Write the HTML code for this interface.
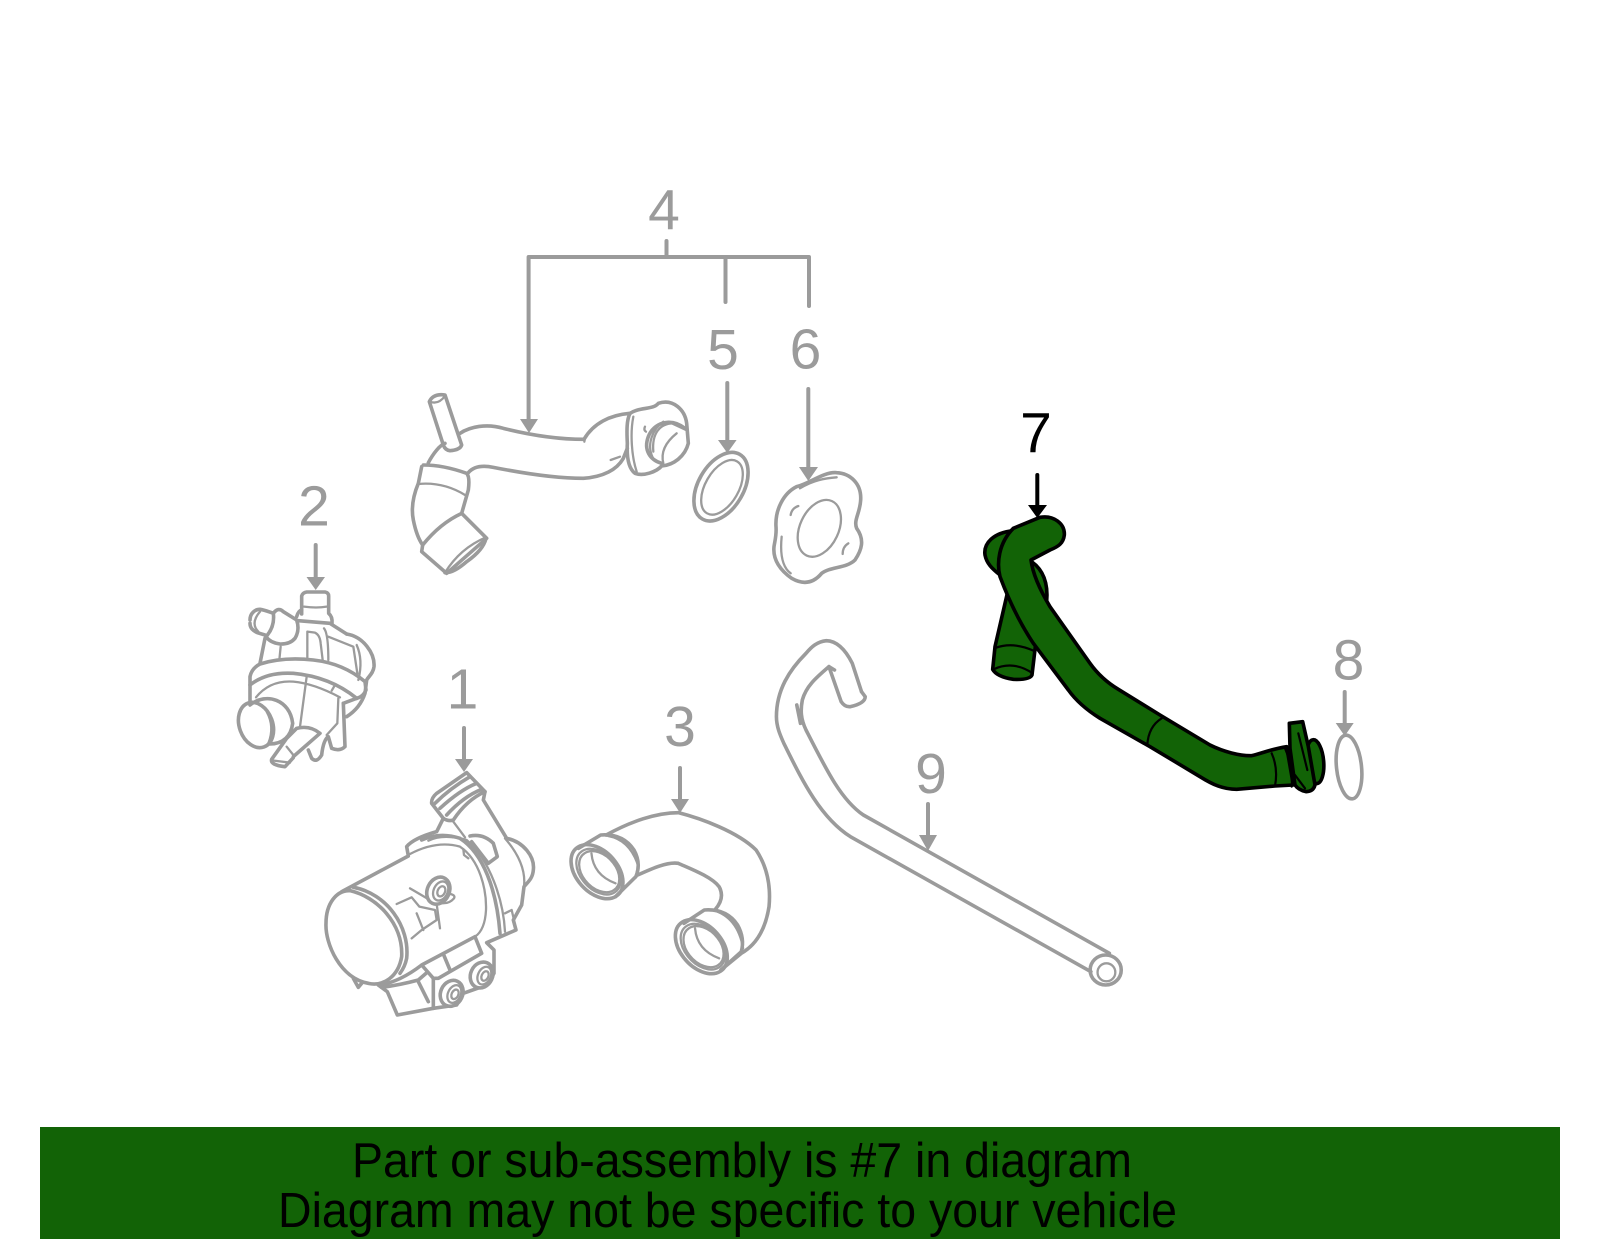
<!DOCTYPE html>
<html><head><meta charset="utf-8"><style>
html,body{margin:0;padding:0;background:#fff;width:1600px;height:1249px;overflow:hidden}
svg{display:block}
path,ellipse{vector-effect:non-scaling-stroke;stroke-linejoin:round;stroke-linecap:round}
.g{fill:none;stroke:#9b9b9b;stroke-width:3.6}
.g .t{stroke-width:2.3}
.w{fill:#fff}
.k{fill:#126306;stroke:#000;stroke-width:3.6}
.kn{fill:none;stroke:#000;stroke-width:2.2}
.n{font:57px "Liberation Sans",sans-serif;fill:#9b9b9b;text-anchor:middle}
.a{stroke:#9b9b9b;stroke-width:4;fill:none}
.h{fill:#9b9b9b}
</style></head><body>
<svg width="1600" height="1249" viewBox="0 0 1600 1249" xmlns="http://www.w3.org/2000/svg">
<rect width="1600" height="1249" fill="#fff"/>

<!-- part 4 -->
<g class="g" transform="translate(400,380) scale(.33333)">
<path d="M85,248C100,220 120,195 135,190"/>
<path d="M180,160C210,140 260,130 310,145C390,165 470,178 552,178C580,130 630,105 690,100"/>
<path d="M205,278C220,260 245,255 280,262C370,280 470,295 550,295C610,290 650,270 670,235L682,205"/>
<path class="t" d="M632,240L660,230M555,175L553,185"/>
<path d="M88,65Q100,40 135,45L185,195Q180,210 150,212Q135,210 130,195Z"/>
<path class="t" d="M90,65Q115,75 135,48"/>
<path d="M690,100C720,80 760,90 775,70C820,55 855,90 860,130L865,190C855,230 820,255 785,258C770,275 730,290 705,280C685,265 680,230 682,190C680,150 680,120 690,100Z"/>
<path class="t" d="M700,110C690,160 695,230 710,275"/>
<path d="M855,145C810,110 760,130 745,170C730,210 750,240 785,250"/>
<path class="t" d="M820,130C780,130 755,160 760,215M790,125C760,145 735,195 762,240M830,160C805,180 780,210 790,250M805,125L858,150M735,140Q730,150 738,155"/>
<path d="M65,260L55,310Q30,370 40,420Q50,470 68,495"/>
<path d="M70,255Q130,255 200,280Q210,290 205,330L185,400"/>
<path class="t" d="M55,312Q130,305 195,345"/>
<path d="M68,495Q120,430 185,400L260,475L140,580L65,515Z"/>
<path class="t" d="M135,578Q180,505 258,472"/>
<path d="M258,475Q250,510 200,545Q160,580 135,578"/>
<ellipse cx="963" cy="320" rx="68" ry="112" transform="rotate(30 963 320)"/>
<ellipse class="t" cx="966" cy="322" rx="50" ry="90" transform="rotate(30 966 322)"/>
<path d="M1190,320C1230,310 1270,275 1310,278C1350,280 1385,310 1382,360C1380,400 1360,420 1370,445C1395,480 1385,510 1365,540C1340,565 1290,560 1265,580C1240,610 1210,615 1175,595C1140,570 1118,540 1122,500C1125,480 1130,465 1128,440C1125,390 1150,340 1190,320Z"/>
<path class="t" d="M1200,325C1240,300 1275,295 1310,292M1145,470C1140,520 1145,560 1172,580M1195,378Q1175,385 1172,405M1345,490Q1328,500 1328,522"/>
<ellipse class="t" cx="1258" cy="445" rx="58" ry="90" transform="rotate(25 1258 445)"/>
</g>

<!-- part 2 -->
<g class="g" transform="translate(200,460) scale(.33333)">
<path d="M305,462L305,408Q308,398 320,396L375,396Q386,398 386,408L386,460Q398,470 396,490"/>
<path class="t" d="M312,440Q350,445 380,440"/>
<path d="M290,470Q295,452 305,450M295,482L390,490L440,522"/>
<path d="M150,480C150,460 165,448 180,448C195,450 205,455 220,460M150,490C150,505 160,512 172,518L195,525"/>
<path d="M220,460Q235,440 250,455L290,480Q300,510 285,535Q270,553 240,552Q210,548 198,530Q225,500 220,460Z"/>
<path class="t" d="M180,455Q150,490 175,515"/>
<path d="M195,535L180,610"/>
<path class="t" d="M242,560L238,600M322,515L345,518Q360,525 362,550L368,600M322,515L322,595M372,505Q385,520 385,600M385,530L460,560L472,640"/>
<path d="M150,730L150,650Q155,625 180,612Q250,590 340,600Q430,610 495,665L498,690Q490,710 470,715L430,730"/>
<path d="M150,675Q200,635 280,640Q390,650 470,715"/>
<path d="M440,522C490,530 525,580 522,620C520,640 505,650 500,660L495,700Q480,745 440,770"/>
<path class="t" d="M470,555Q490,600 475,660M168,712Q210,660 280,665Q340,670 420,712M320,650L300,800M405,675L395,692"/>
<ellipse class="w" cx="168" cy="795" rx="50" ry="70" transform="rotate(-20 168 795)"/>
<path class="t" d="M200,755Q225,800 205,850"/>
<path d="M150,735C200,695 270,720 278,790Q270,850 210,852"/>
<path d="M430,730L435,860Q420,875 395,865L385,830Q370,840 365,885Q350,910 335,895L325,870"/>
<path d="M280,890L360,820Q330,795 290,805Q265,830 260,835L215,898Q210,915 255,920L280,893Z"/>
<path class="t" d="M222,902L270,908M260,860L280,885M415,715L412,790L380,825"/>
</g>

<!-- part 1 -->
<g class="g" transform="translate(300,750) scale(.33333)">
<path d="M125,425L325,318L320,290Q340,265 410,245L430,205L395,160Q393,145 410,130L500,68L555,125L550,150L620,265C670,275 705,320 700,360C698,385 685,395 672,410L665,465L640,510L648,540L560,578L582,600L582,670L560,705L490,730L470,765L400,775L292,795L262,725L235,705"/>
<path d="M78,520C78,460 110,420 150,422C230,440 310,520 305,620C295,680 250,710 205,700C120,685 75,580 78,520Z"/>
<path d="M160,412C260,430 330,530 320,625Q315,650 300,670"/>
<path d="M240,705Q300,695 365,645L525,560L545,610L415,685L400,685L365,645"/>
<path d="M430,612L450,660M400,685L400,775M355,695L385,755"/>
<path d="M245,712Q300,705 355,690L378,670"/>
<path class="t" d="M330,312Q410,270 480,290C540,330 560,420 558,480Q555,540 525,560"/>
<path d="M365,270Q420,245 480,265C550,310 590,420 600,550"/>
<path class="t" d="M385,272Q430,250 500,270C570,330 610,450 615,545M615,490L635,480L642,510M490,298L492,315L505,325"/>
<path d="M405,160Q450,115 510,80M420,175Q480,120 530,100M440,195Q490,140 545,118M430,205Q445,215 460,210Q500,150 555,125"/>
<path class="t" d="M460,215L495,262M615,265Q680,340 672,410"/>
<path d="M510,258Q550,250 580,280L592,320L565,340L515,275"/>
<path class="t" d="M330,415L410,462L420,535M290,462L335,442L358,470L405,480L410,510L365,540L335,565M350,490L370,540M425,430Q470,430 462,445Q445,465 415,458"/>
<ellipse class="w" cx="415" cy="422" rx="33" ry="42" transform="rotate(25 415 422)"/>
<ellipse class="t" cx="422" cy="423" rx="21" ry="30" transform="rotate(25 422 423)"/>
<ellipse class="t" cx="424" cy="424" rx="11" ry="16" transform="rotate(25 424 424)"/>
<ellipse class="w" cx="455" cy="730" rx="33" ry="40" transform="rotate(25 455 730)"/>
<ellipse class="t" cx="463" cy="732" rx="19" ry="28" transform="rotate(25 463 732)"/>
<ellipse class="t" cx="465" cy="733" rx="10" ry="15" transform="rotate(25 465 733)"/>
<ellipse class="w" cx="545" cy="675" rx="33" ry="40" transform="rotate(25 545 675)"/>
<ellipse class="t" cx="553" cy="677" rx="19" ry="28" transform="rotate(25 553 677)"/>
<ellipse class="t" cx="555" cy="678" rx="10" ry="15" transform="rotate(25 555 678)"/>
<path d="M160,685L175,712L185,700"/>
</g>

<!-- parts 3 and 9 -->
<g class="g" transform="translate(560,620) scale(.36996,.33333)">
<path d="M125,645C190,605 260,578 320,578C380,595 480,635 530,690C560,740 570,800 565,860C555,930 530,975 490,1000L435,1050"/>
<path d="M50,685L110,645Q170,640 200,690Q220,730 205,770L150,830"/>
<path d="M210,765C250,745 290,725 320,730C350,745 410,770 430,800C445,830 430,855 420,868"/>
<path d="M335,910L390,870Q450,865 480,915Q500,955 490,995L435,1050"/>
<ellipse cx="100" cy="755" rx="58" ry="90" transform="rotate(-35 100 755)"/>
<ellipse class="t" cx="104" cy="755" rx="50" ry="76" transform="rotate(-35 104 755)"/>
<ellipse class="t" cx="106" cy="755" rx="46" ry="68" transform="rotate(-35 106 755)"/>
<ellipse cx="382" cy="980" rx="58" ry="90" transform="rotate(-35 382 980)"/>
<ellipse class="t" cx="386" cy="980" rx="50" ry="76" transform="rotate(-35 386 980)"/>
<ellipse class="t" cx="388" cy="980" rx="46" ry="68" transform="rotate(-35 388 980)"/>
<path class="t" d="M85,700Q90,765 150,790M365,925Q370,990 430,1015M130,648Q190,660 212,740M412,870Q480,890 495,985"/>
<path d="M815,215L790,130C770,85 745,62 720,62C695,65 680,80 665,100C620,150 585,210 585,290C585,320 595,345 605,370C650,470 700,590 785,650L1435,1055"/>
<path d="M1485,1000L820,585C760,540 720,450 665,330C650,295 650,270 655,240C665,200 690,175 727,140L760,245Q770,262 785,260Q825,250 825,230L815,215"/>
<path d="M640,255L650,310M727,140L742,150"/>
<ellipse cx="1475" cy="1050" rx="42" ry="45"/>
<ellipse class="t" cx="1477" cy="1057" rx="24" ry="27"/>
</g>

<!-- part 7 -->
<g transform="translate(950,380) scale(.33333)">
<path class="k" d="M190,452C130,458 100,490 105,525C110,550 125,565 150,585L200,560Z"/>
<path class="k" d="M245,545C280,570 295,610 290,665L250,640Z"/>
<path class="k" d="M172,640L135,800L128,868Q140,890 190,898Q240,900 246,885L256,800L262,770Z"/>
<path class="kn" d="M138,803Q190,785 250,812M130,868Q190,840 248,880"/>
<path class="k" d="M190,445L270,412C310,405 345,430 343,465C340,490 325,500 300,510L243,540C248,580 270,630 300,680L420,850C445,885 475,910 505,928L630,1005L780,1095C820,1115 870,1128 905,1127C930,1122 960,1108 1010,1100L1030,1215L975,1218L860,1228C820,1228 790,1215 750,1190L600,1100L450,1015C410,990 380,965 355,930L250,790C210,730 180,670 150,590C140,550 145,490 190,445Z"/>
<path class="kn" d="M635,1015Q595,1040 592,1095M965,1120Q985,1165 975,1218M1005,1105Q1030,1160 1025,1220"/>
<ellipse class="k" cx="1095" cy="1145" rx="26" ry="66" transform="rotate(-5 1095 1145)"/>
<path class="k" d="M1018,1030L1058,1025L1075,1100L1095,1215Q1090,1235 1068,1235Q1045,1230 1035,1215L1020,1105Z"/>
<path class="kn" d="M1045,1060L1072,1170M1035,1185L1065,1225"/>
</g>
<ellipse class="g" cx="1349" cy="767" rx="12.5" ry="32" transform="rotate(-6 1349 767)"/>

<!-- bracket and leaders -->
<path class="a" d="M666.5,241V257M528.6,419V257H809V306M725.5,257V302"/>
<path class="a" d="M727.3,383V441M808.3,389V468M315.7,545V577M464,728V759M680,768V799M928,804V835M1344.7,692V723"/>
<path class="h" d="M520,419H538L529,433ZM718,440H736.600L727.300,453ZM799,467H818L808.300,481ZM306.500,577H325L315.700,590ZM455,759H473L464,772ZM671,799H689L680,813ZM919,835H937L928,851ZM1335.700,723H1353.700L1344.700,736Z"/>
<path d="M1037.300,475V506" stroke="#000" stroke-width="4" fill="none"/>
<path d="M1028,505H1047L1037.300,518Z" fill="#000"/>

<!-- numbers -->
<text class="n" x="462.500" y="708.500">1</text>
<text class="n" x="314" y="525.500">2</text>
<text class="n" x="680" y="746">3</text>
<text class="n" x="664" y="229.500">4</text>
<text class="n" x="723" y="369">5</text>
<text class="n" x="805.500" y="368.500">6</text>
<text class="n" x="1036" y="452.500" style="fill:#000">7</text>
<text class="n" x="1348.500" y="679.500">8</text>
<text class="n" x="931" y="793">9</text>

<!-- banner -->
<rect x="40" y="1127" width="1520" height="112" fill="#126306"/>
<text x="352" y="1177" font-family="Liberation Sans, sans-serif" font-size="49" fill="#000" textLength="780" lengthAdjust="spacingAndGlyphs">Part or sub-assembly is #7 in diagram</text>
<text x="278" y="1227" font-family="Liberation Sans, sans-serif" font-size="49" fill="#000" textLength="899" lengthAdjust="spacingAndGlyphs">Diagram may not be specific to your vehicle</text>
</svg>
</body></html>
